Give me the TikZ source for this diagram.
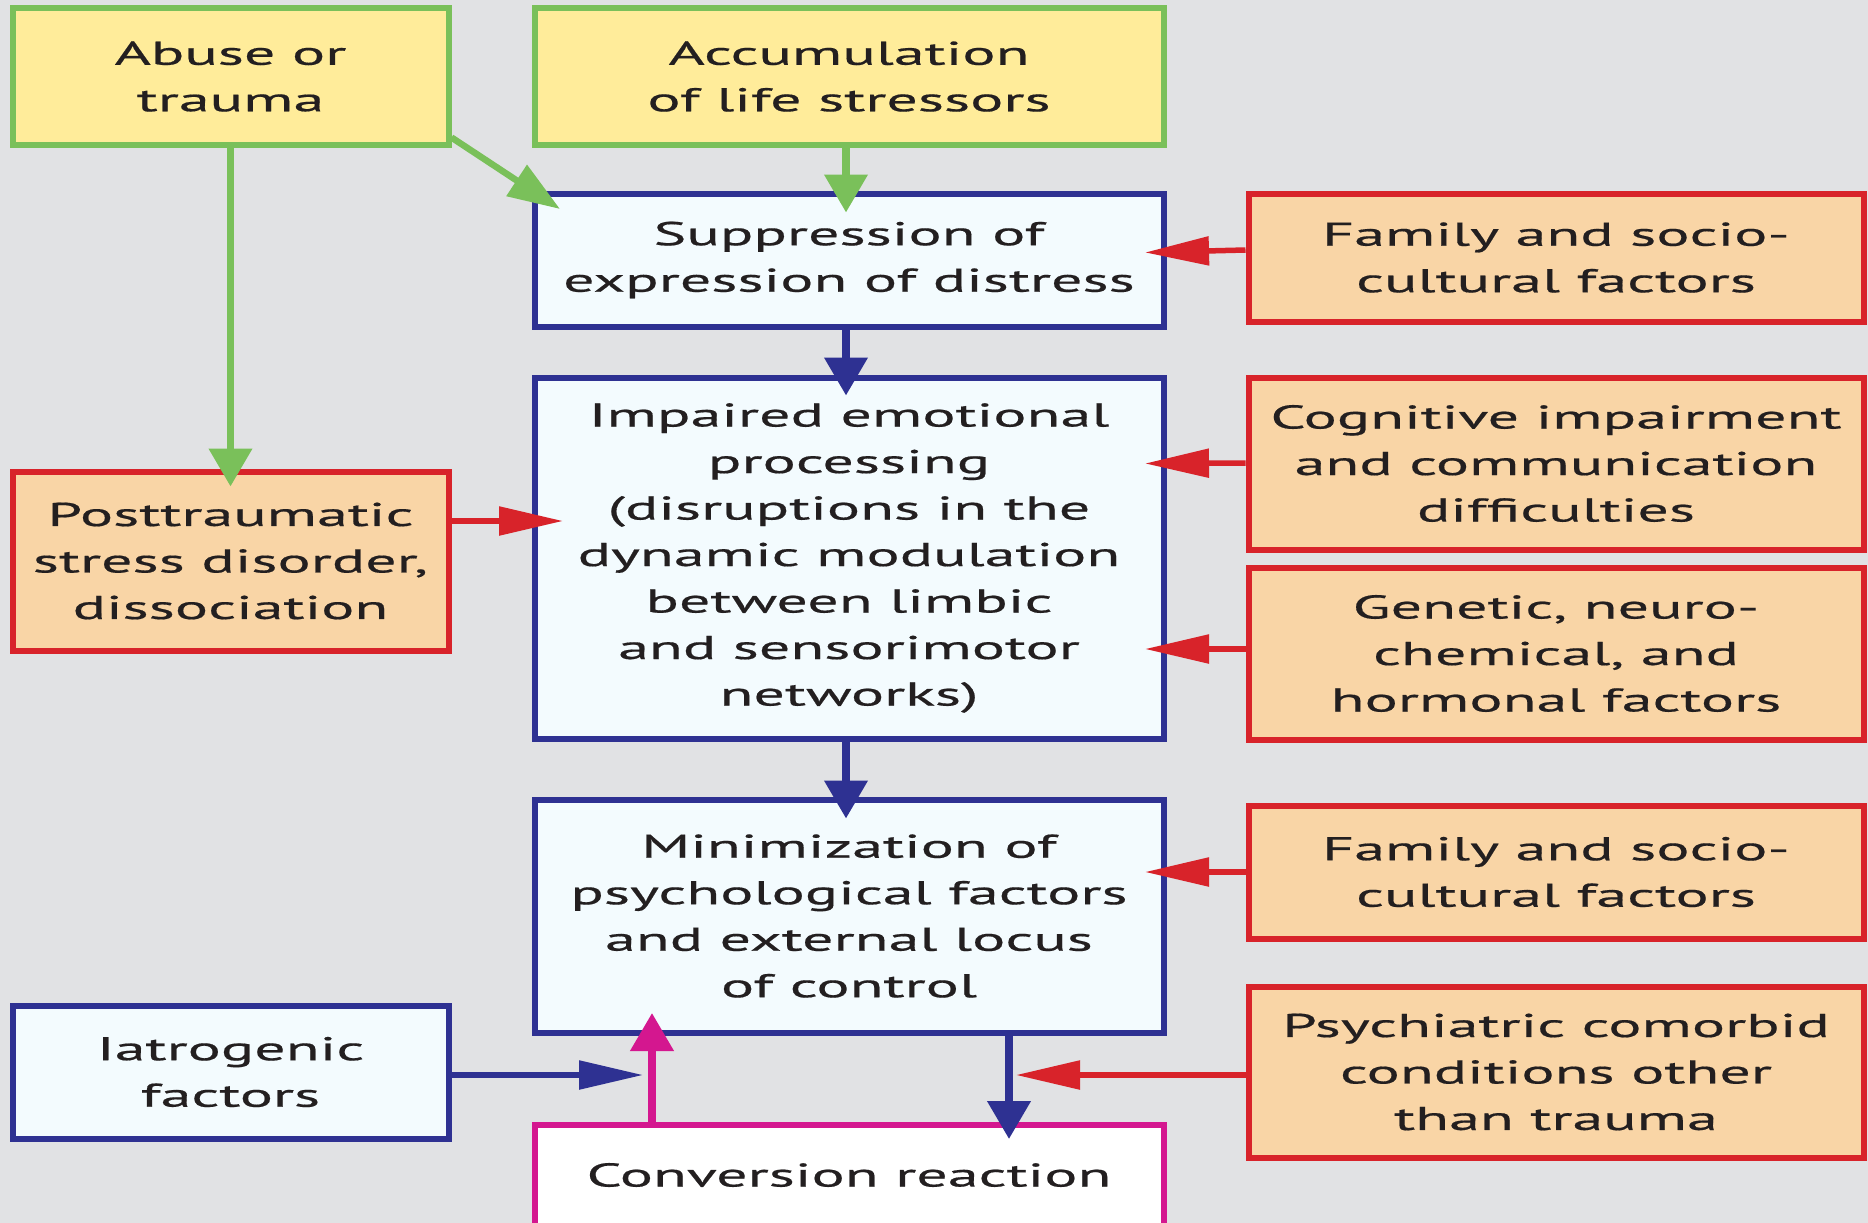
\documentclass[tikz,border=0pt]{standalone}
\usepackage{fontspec}
\setmainfont{PT Sans}[FakeStretch=1.88,FakeBold=0.5]
\usetikzlibrary{arrows.meta}
\definecolor{bgc}{HTML}{E1E2E4}
\definecolor{yel}{HTML}{FFEC9A}
\definecolor{grn}{HTML}{7AC05A}
\definecolor{blu}{HTML}{2E3192}
\definecolor{lblu}{HTML}{F3FBFE}
\definecolor{redc}{HTML}{D8232A}
\definecolor{org}{HTML}{F9D5A6}
\definecolor{mag}{HTML}{D4178F}
\definecolor{txt}{HTML}{231F20}
\tikzset{
 box/.style={draw, line width=6pt, inner sep=0pt, align=center, font=\fontsize{33}{46.5}\selectfont, text=txt},
 ybox/.style={box, draw=grn, fill=yel},
 bbox/.style={box, draw=blu, fill=lblu},
 obox/.style={box, draw=redc, fill=org},
 mbox/.style={box, draw=mag, fill=white},
 harr/.style={line width=5.5pt, -{Triangle[length=64pt,width=28pt]}},
 varr/.style={line width=7.5pt, -{Triangle[length=38pt,width=42pt]}},
 darr/.style={line width=6.5pt, -{Triangle[length=52pt,width=36pt]}},
}
\begin{document}
\begin{tikzpicture}[x=1pt,y=-1pt]
\useasboundingbox (0,0) rectangle (1868,1223);
\fill[bgc] (0,0) rectangle (1868,1223);
\node[ybox, minimum width=436pt, minimum height=136pt] (abuse) at (230.5,76.5) {Abuse or\\trauma};
\node[ybox, minimum width=629pt, minimum height=136pt] (accum) at (849,76.5) {Accumulation\\of life stressors};
\node[bbox, minimum width=629pt, minimum height=133pt] (suppr) at (849,260) {Suppression of\\expression of distress};
\node[obox, minimum width=615pt, minimum height=128pt] (fam1) at (1556,257.5) {Family and socio-\\cultural factors};
\node[bbox, minimum width=629pt, minimum height=361pt] (impair) at (849,558) {Impaired emotional\\processing\\(disruptions in the\\dynamic modulation\\between limbic\\and sensorimotor\\networks)};
\node[obox, minimum width=615pt, minimum height=172pt] (cogn) at (1556,463.5) {Cognitive impairment\\and communication\\difficulties};
\node[obox, minimum width=615pt, minimum height=172pt] (genet) at (1556,653.5) {Genetic, neuro-\\chemical, and\\hormonal factors};
\node[obox, minimum width=436pt, minimum height=179pt] (ptsd) at (230.5,561) {Posttraumatic\\stress disorder,\\dissociation};
\node[bbox, minimum width=629pt, minimum height=233pt] (minim) at (849,916) {Minimization of\\psychological factors\\and external locus\\of control};
\node[obox, minimum width=615pt, minimum height=133pt] (fam2) at (1556,872) {Family and socio-\\cultural factors};
\node[obox, minimum width=615pt, minimum height=171pt] (psych) at (1556,1072) {Psychiatric comorbid\\conditions other\\than trauma};
\node[bbox, minimum width=436pt, minimum height=133pt] (iatro) at (230.5,1072) {Iatrogenic\\factors};
\node[mbox, minimum width=629pt, minimum height=101pt] (conv) at (849,1175) {Conversion reaction};
% green
\draw[varr, grn] (abuse.south) -- ([yshift=-18pt]ptsd.north);
\draw[varr, grn] ([xshift=-3pt]accum.south) -- ([xshift=-3pt,yshift=-22pt]suppr.north);
\draw[darr, grn] ([yshift=10pt]abuse.south east) -- ([xshift=28.5pt,yshift=-18.5pt]suppr.north west);
% blue
\draw[varr, blu] ([xshift=-3pt]suppr.south) -- ([xshift=-3pt,yshift=-21pt]impair.north);
\draw[varr, blu] ([xshift=-3pt]impair.south) -- ([xshift=-3pt,yshift=-22pt]minim.north);
\draw[varr, blu] ([xshift=160pt]minim.south) -- ([xshift=160pt,yshift=-17.5pt]conv.north);
\coordinate (itip) at (643,1075);
\draw[harr, blu] ([yshift=-3pt]iatro.east) -- (itip);
% magenta
\draw[varr, mag] ([xshift=-197pt]conv.north) -- ([xshift=-197pt,yshift=22.5pt]minim.south);
% red
\draw[harr, redc] ([yshift=7.5pt]fam1.west) -- ([xshift=-21.5pt,yshift=7.5pt]suppr.east);
\draw[harr, redc] ([yshift=0.5pt]cogn.west) -- ([xshift=-21.5pt]cogn.west -| impair.east);
\draw[harr, redc] ([yshift=4.5pt]genet.west) -- ([xshift=-21.5pt,yshift=4.5pt]genet.west -| impair.east);
\draw[harr, redc] (fam2.west) -- ([xshift=-21.5pt]fam2.west -| minim.east);
\draw[harr, redc] ([yshift=40pt]ptsd.east) -- ([xshift=31.5pt,yshift=40pt]ptsd.east -| impair.west);
\coordinate (ptip) at (1016,1075);
\draw[harr, redc] ([yshift=-3pt]psych.west) -- (ptip);
\end{tikzpicture}
\end{document}
